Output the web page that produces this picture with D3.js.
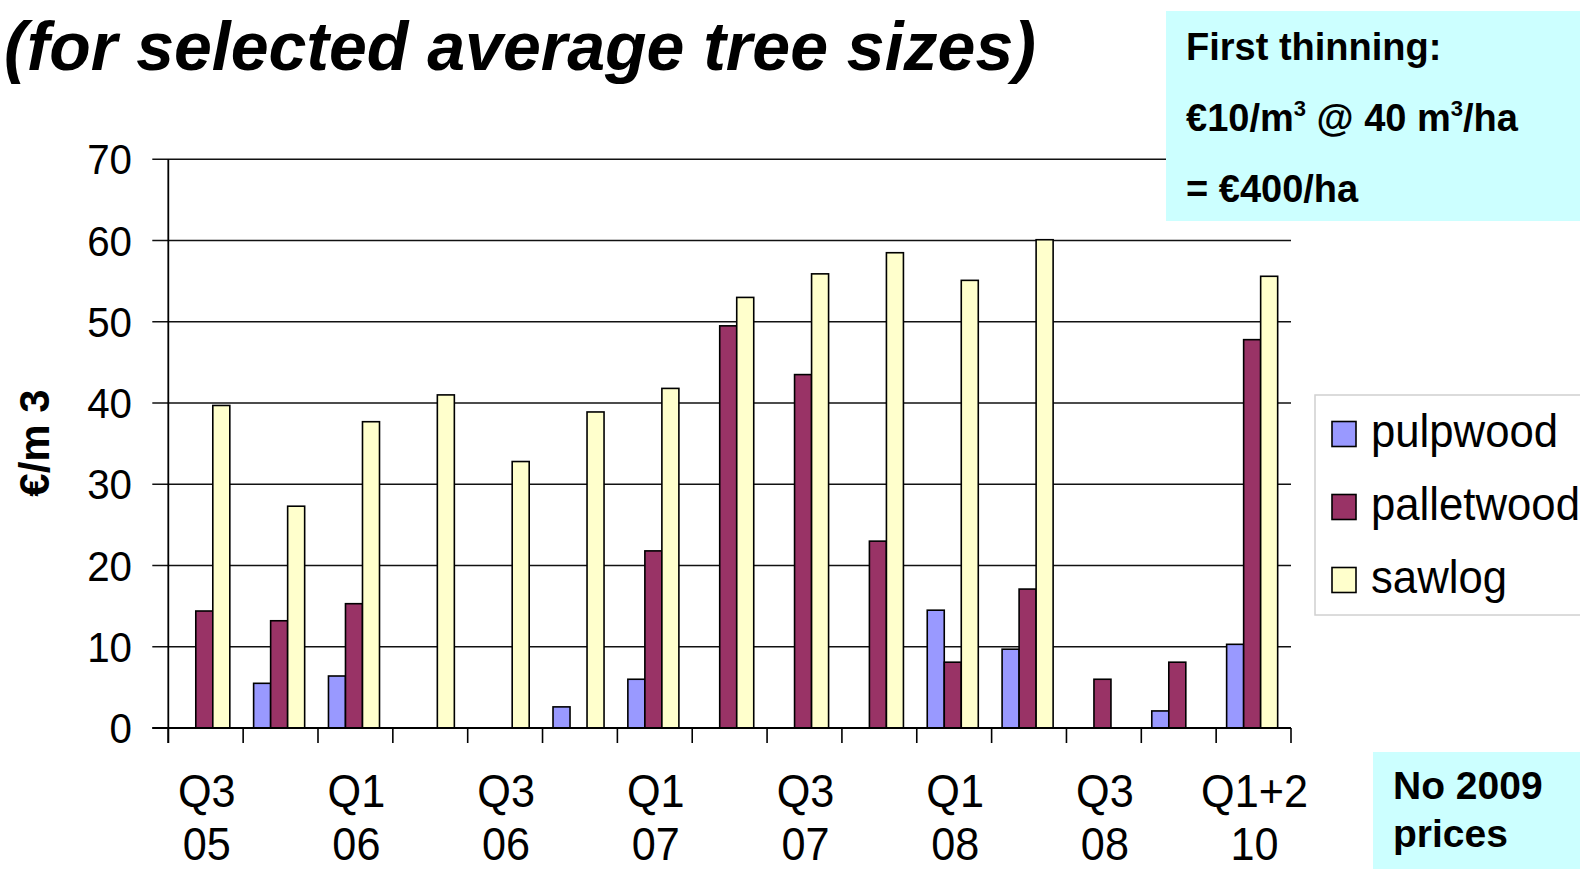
<!DOCTYPE html>
<html>
<head>
<meta charset="utf-8">
<script src="https://cdn.jsdelivr.net/npm/d3@7"></script>
<style>
  html, body { margin: 0; padding: 0; background: #ffffff; }
  svg { display: block; }
  text { font-family: "Liberation Sans", Arial, sans-serif; fill: #000; }
</style>
</head>
<body>
<svg id="chart" width="1580" height="869"></svg>
<script>
// ---------- data ----------
const categories = ["Q3 05","Q4 05","Q1 06","Q2 06","Q3 06","Q4 06","Q1 07","Q2 07","Q3 07","Q4 07","Q1 08","Q2 08","Q3 08","Q4 08","Q1+2 10"];
const tickLabels = ["Q3\n05","","Q1\n06","","Q3\n06","","Q1\n07","","Q3\n07","","Q1\n08","","Q3\n08","","Q1+2\n10"];
const seriesNames = ["pulpwood","palletwood","sawlog"];
const pulpwood   = [null, 5.5, 6.4, null, null, 2.6, 6.0, null, null, null, 14.5, 9.7, null, 2.1, 10.3];
const palletwood = [14.4, 13.2, 15.3, null, null, null, 21.8, 49.5, 43.5, 23.0, 8.1, 17.1, 6.0, 8.1, 47.8];
const sawlog     = [39.7, 27.3, 37.7, 41.0, 32.8, 38.9, 41.8, 53.0, 55.9, 58.5, 55.1, 60.1, null, null, 55.6];
const yTicks = [0, 10, 20, 30, 40, 50, 60, 70];
const seriesColors = ["#9999FF", "#993366", "#FFFFCC"];
const titleText = "(for selected average tree sizes)";
const yAxisTitle = "€/m 3";

// ---------- layout ----------
const svg = d3.select("#chart");
const plot = { left: 168.3, right: 1291, top: 159.3, bottom: 728 };

const x0 = d3.scaleBand().domain(categories).range([plot.left, plot.right]).padding(0);
const x1 = d3.scaleBand().domain(seriesNames).range([0, x0.bandwidth()])
  .paddingInner(0).paddingOuter(0.7).align(0.44);
const y = d3.scaleLinear().domain([0, 70]).range([plot.bottom, plot.top]);
const color = d3.scaleOrdinal().domain(seriesNames).range(seriesColors);

// helper: text with horizontal compression
function sText(parent, x, yy, str, opts) {
  const g = parent.append("g").attr("transform", `translate(${x},${yy}) scale(${opts.sx || 1},1)`);
  const t = g.append("text").attr("x", 0).attr("y", 0)
    .attr("font-size", opts.size)
    .attr("font-weight", opts.weight || "normal")
    .attr("font-style", opts.style || "normal")
    .attr("text-anchor", opts.anchor || "start")
    .text(str);
  return t;
}

// ---------- gridlines ----------
const grid = svg.append("g");
grid.selectAll("line").data(yTicks).join("line")
  .attr("x1", plot.left - 16).attr("x2", plot.right)
  .attr("y1", d => y(d)).attr("y2", d => y(d))
  .attr("stroke", "#111").attr("stroke-width", 1.6);

// ---------- bars ----------
const series = [pulpwood, palletwood, sawlog];
const barData = [];
categories.forEach((c, i) => {
  seriesNames.forEach((s, j) => {
    const v = series[j][i];
    if (v != null) barData.push({ cat: c, s: s, v: v });
  });
});
svg.append("g").selectAll("rect").data(barData).join("rect")
  .attr("x", d => x0(d.cat) + x1(d.s))
  .attr("y", d => y(d.v))
  .attr("width", x1.bandwidth())
  .attr("height", d => y(0) - y(d.v))
  .attr("fill", d => color(d.s))
  .attr("stroke", "#000").attr("stroke-width", 1.6);

// ---------- axes ----------
const yAxis = d3.axisLeft(y).tickValues(yTicks).tickSize(0).tickPadding(0).tickFormat("");
svg.append("g").attr("transform", `translate(${plot.left},0)`).call(yAxis)
  .call(g => g.select(".domain").attr("stroke", "#000").attr("stroke-width", 1.8)
     .attr("d", `M0,${plot.top}V${plot.bottom + 15}`));

const bounds = categories.map(c => x0(c)).concat([plot.right]);
const xAxis = svg.append("g");
xAxis.append("line").attr("x1", plot.left - 16).attr("x2", plot.right)
  .attr("y1", plot.bottom).attr("y2", plot.bottom).attr("stroke", "#000").attr("stroke-width", 2);
xAxis.selectAll("line.tick").data(bounds).join("line").attr("class", "tick")
  .attr("x1", d => d).attr("x2", d => d)
  .attr("y1", plot.bottom).attr("y2", plot.bottom + 15)
  .attr("stroke", "#000").attr("stroke-width", 1.6);

// y tick labels
yTicks.forEach(v => {
  sText(svg, 132, y(v) + 15, String(v), { size: 42, anchor: "end", sx: 0.96 });
});

// x tick labels
categories.forEach((c, i) => {
  const lab = tickLabels[i];
  if (!lab) return;
  const parts = lab.split("\n");
  const cx = x0(c) + x0.bandwidth() / 2 + 1;
  sText(svg, cx, 807, parts[0], { size: 47, anchor: "middle", sx: 0.92 });
  sText(svg, cx, 860, parts[1], { size: 47, anchor: "middle", sx: 0.92 });
});

// y axis title
svg.append("text")
  .attr("transform", "translate(49,443) rotate(-90)")
  .attr("text-anchor", "middle")
  .attr("font-size", 42).attr("font-weight", "bold")
  .text(yAxisTitle);

// ---------- title ----------
svg.append("text").attr("x", 4).attr("y", 70)
  .attr("font-size", 68).attr("font-weight", "bold").attr("font-style", "italic")
  .text(titleText);

// ---------- info box top right ----------
svg.append("rect").attr("x", 1166).attr("y", 11).attr("width", 414).attr("height", 210)
  .attr("fill", "#CCFFFF");
const bx = 1186;
svg.append("text").attr("x", bx).attr("y", 60).attr("font-size", 38).attr("font-weight", "bold")
  .text("First thinning:");
const l2 = svg.append("text").attr("x", bx).attr("y", 131).attr("font-size", 38).attr("font-weight", "bold");
l2.append("tspan").text("€10/m");
l2.append("tspan").attr("font-size", 22).attr("dy", -15).text("3");
l2.append("tspan").attr("dy", 15).text(" @ 40 m");
l2.append("tspan").attr("font-size", 22).attr("dy", -15).text("3");
l2.append("tspan").attr("dy", 15).text("/ha");
svg.append("text").attr("x", bx).attr("y", 202).attr("font-size", 38).attr("font-weight", "bold")
  .text("= €400/ha");

// ---------- info box bottom right ----------
svg.append("rect").attr("x", 1373).attr("y", 752).attr("width", 207).attr("height", 117)
  .attr("fill", "#CCFFFF");
svg.append("text").attr("x", 1393).attr("y", 799).attr("font-size", 39).attr("font-weight", "bold")
  .text("No 2009");
svg.append("text").attr("x", 1393).attr("y", 847).attr("font-size", 39).attr("font-weight", "bold")
  .text("prices");

// ---------- legend ----------
svg.append("rect").attr("x", 1315).attr("y", 395).attr("width", 280).attr("height", 220)
  .attr("fill", "#fff").attr("stroke", "#d0d0d0").attr("stroke-width", 1.5);
seriesNames.forEach((s, i) => {
  const cy = 434 + i * 73;
  svg.append("rect").attr("x", 1332).attr("y", cy - 12.5).attr("width", 24).attr("height", 25)
    .attr("fill", color(s)).attr("stroke", "#000").attr("stroke-width", 1.6);
  sText(svg, 1371, cy + 13, s, { size: 47, sx: 0.93 });
});
</script>
</body>
</html>
